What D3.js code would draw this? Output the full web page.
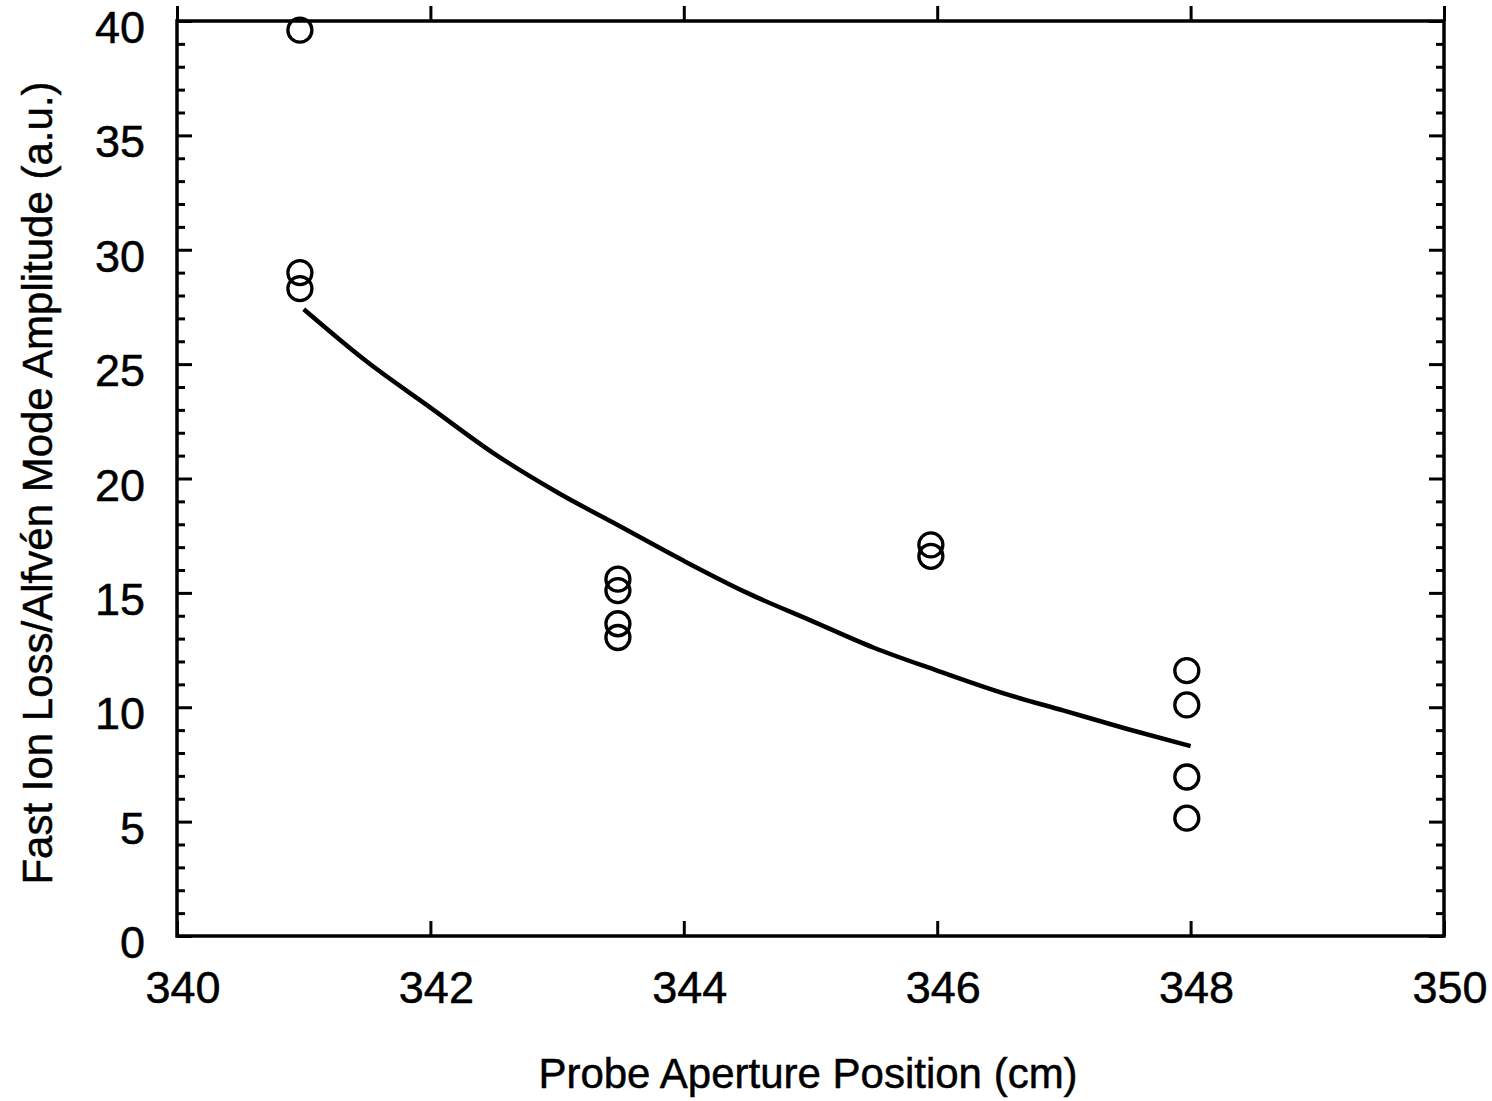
<!DOCTYPE html>
<html>
<head>
<meta charset="utf-8">
<script src="https://d3js.org/d3.v7.min.js"></script>
<style>
  body { margin: 0; background: #fff; }
  text { font-family: "Liberation Sans", Arial, Helvetica, sans-serif; fill: #000; stroke: #000; stroke-width: 0.5px; }
</style>
</head>
<body>
<div id="chart"></div>
<script>
// measured points (probe position cm, amplitude a.u.)
var pointX = [340.97, 340.97, 340.97, 343.48, 343.48, 343.48, 343.48, 345.95, 345.95, 347.97, 347.97, 347.97, 347.97];
var pointY = [39.6, 29.0, 28.3, 15.6, 15.1, 13.65, 13.05, 17.1, 16.6, 11.6, 10.1, 6.95, 5.15];

// fitted curve
var curveX = [341, 341.5, 342, 342.5, 343, 343.5, 344, 344.5, 345, 345.5, 346, 346.5, 347, 347.5, 348];
var curveY = [27.4, 25.1, 23.1, 21.1, 19.4, 17.9, 16.4, 15.0, 13.8, 12.6, 11.6, 10.65, 9.85, 9.05, 8.3];

var xTicks = [340, 342, 344, 346, 348, 350];
var yTicks = [0, 5, 10, 15, 20, 25, 30, 35, 40];

var W = 1492, H = 1101;
var margin = {left: 177, right: 48, top: 21, bottom: 165};
var w = W - margin.left - margin.right;
var h = H - margin.top - margin.bottom;

var svg = d3.select("#chart").append("svg")
    .attr("width", W)
    .attr("height", H);

var g = svg.append("g")
    .attr("transform", "translate(" + margin.left + "," + margin.top + ")");

var x = d3.scaleLinear().domain([340, 350]).range([0, w]);
var y = d3.scaleLinear().domain([0, 40]).range([h, 0]);

var minorY = d3.range(0, 41, 1).filter(function(v){ return v % 5 !== 0; });

// ticks, all pointing inward
function ticks(sel, axis, vals, len){
  sel.append("g").call(axis.tickValues(vals).tickSize(-len).tickFormat(""))
    .call(function(a){ a.select(".domain").remove(); })
    .selectAll("line").attr("stroke", "#000").attr("stroke-width", 3);
}
ticks(g.append("g").attr("transform", "translate(0," + h + ")"), d3.axisBottom(x), xTicks, 15);
ticks(g.append("g"), d3.axisTop(x), xTicks, -15);
ticks(g.append("g"), d3.axisLeft(y), yTicks, 15);
ticks(g.append("g"), d3.axisLeft(y), minorY, 8);
ticks(g.append("g").attr("transform", "translate(" + w + ",0)"), d3.axisRight(y), yTicks, 15);
ticks(g.append("g").attr("transform", "translate(" + w + ",0)"), d3.axisRight(y), minorY, 8);

// frame
g.append("rect")
  .attr("width", w).attr("height", h)
  .attr("fill", "none").attr("stroke", "#000").attr("stroke-width", 3.5);

// tick labels
g.selectAll(".xlab").data(xTicks).enter().append("text")
  .attr("x", function(d){ return x(d) + 6; })
  .attr("y", h + 67)
  .attr("text-anchor", "middle")
  .style("font-size", "45px")
  .text(function(d){ return d; });

g.selectAll(".ylab").data(yTicks).enter().append("text")
  .attr("x", -32)
  .attr("y", function(d){ return y(d) + 22; })
  .attr("text-anchor", "end")
  .style("font-size", "45px")
  .text(function(d){ return d; });

// axis titles
svg.append("text")
  .attr("x", 808).attr("y", 1088)
  .attr("text-anchor", "middle")
  .style("font-size", "42px")
  .text("Probe Aperture Position (cm)");

svg.append("text")
  .attr("transform", "translate(52,483) rotate(-90)")
  .attr("text-anchor", "middle")
  .style("font-size", "42px")
  .text("Fast Ion Loss/Alfvén Mode Amplitude (a.u.)");

// curve
var line = d3.line()
  .x(function(d){ return x(d[0]); })
  .y(function(d){ return y(d[1]); })
  .curve(d3.curveMonotoneX);

g.append("path")
  .datum(curveX.map(function(v, i){ return [v, curveY[i]]; }))
  .attr("d", line)
  .attr("fill", "none")
  .attr("stroke", "#000")
  .attr("stroke-width", 4.5);

// open circles
g.selectAll(".pt").data(pointX).enter().append("circle")
  .attr("cx", function(d){ return x(d); })
  .attr("cy", function(d, i){ return y(pointY[i]); })
  .attr("r", 12)
  .attr("fill", "none")
  .attr("stroke", "#000")
  .attr("stroke-width", 3.3);
</script>
</body>
</html>
